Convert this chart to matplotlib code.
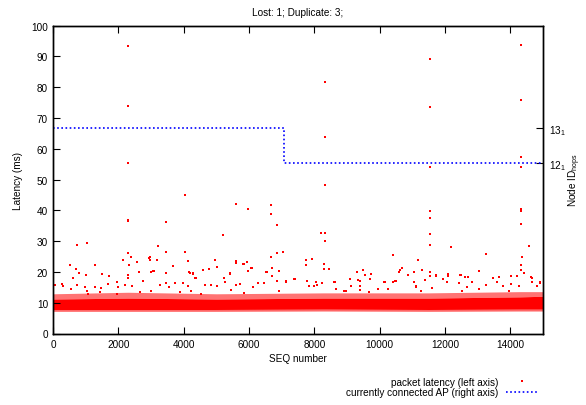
import numpy as np
import matplotlib
matplotlib.use("Agg")
import matplotlib.pyplot as plt
from matplotlib.lines import Line2D

plt.rcParams['font.family'] = ['Liberation Sans', 'DejaVu Sans']
plt.rcParams['mathtext.default'] = 'regular'
plt.rcParams['font.size'] = 7.2

# Latency points that stand out from the dense band (seq number, ms)
spike_seq = [2307, 2307, 2307, 2307, 2307, 4043, 8321, 8321, 8321, 11527, 11527, 11527, 11527, 11527,
             14325, 14325, 14325, 14325, 14325, 14325, 14325, 5615, 5983, 6667, 6677, 6852, 3451, 5196,
             8209, 8321, 8321, 11527, 11527]
spike_ms = [93.3, 73.8, 55.4, 37.0, 36.5, 45.0, 81.6, 63.9, 48.3, 89.1, 73.6, 54.2, 39.8, 37.5,
            93.7, 75.9, 57.4, 54.2, 40.4, 39.9, 35.6, 42.1, 40.4, 41.7, 38.7, 35.2, 36.1, 32.0,
            32.5, 32.7, 30.0, 32.3, 28.7]

mid_seq = [745, 1052, 521, 700, 796, 1286, 1010, 1491, 1725, 623, 1950, 52, 266, 2134, 2307, 2338, 2379,
           2563, 2971, 2971, 3073, 3216, 3175, 3451, 3451, 3675, 4043, 4124, 4175, 4277, 4390, 4584, 4778,
           4962, 5013, 5421, 5238, 5605, 5605, 5830, 5952, 5983, 6085, 6524, 6667, 6698, 6698, 6852, 6913,
           7036, 7128, 7382, 7750, 7750, 7924, 7770, 8056, 8301, 8301, 8444, 8638, 9097, 9321, 9505, 9352,
           9710, 9566, 10148, 10405, 10485, 10629, 10680, 10853, 11048, 11160, 11120, 11293, 11527, 11527,
           11722, 11936, 12078, 12191, 12466, 12619, 12701, 13039, 13253, 13467, 13640, 14019, 14203, 14325,
           14325, 14366, 14559, 14661, 14896]
mid_ms = [28.6, 29.5, 22.2, 20.9, 19.5, 22.2, 19.0, 19.4, 18.8, 17.9, 16.8, 15.7, 16.1, 23.9, 26.1, 22.2, 24.9,
          23.1, 24.7, 23.9, 20.3, 28.5, 24.0, 26.4, 19.5, 21.9, 26.6, 23.5, 19.9, 19.5, 17.9, 20.7, 20.9,
          23.9, 21.6, 19.5, 18.0, 23.6, 22.9, 22.7, 23.3, 20.4, 21.2, 20.1, 24.9, 21.2, 18.8, 26.0, 20.4,
          26.6, 17.0, 17.6, 24.0, 22.3, 24.2, 16.9, 16.7, 22.7, 20.9, 20.9, 16.6, 17.7, 20.1, 20.7, 17.4,
          17.8, 19.1, 16.8, 25.6, 17.1, 20.6, 21.2, 18.9, 19.9, 24.0, 15.0, 20.6, 19.9, 18.6,
          19.0, 17.7, 19.3, 28.1, 19.1, 18.2, 18.2, 20.3, 25.8, 18.0, 18.3, 18.8, 18.6, 22.2,
          20.5, 24.8, 28.4, 18.0, 16.4]

low_seq = [41, 317, 542, 725, 980, 1052, 1286, 1470, 1694, 2001, 2297, 2287, 2624, 2746, 2205, 2410, 2940,
           1440, 1082, 2665, 1950, 3011, 3084, 4186, 4288, 4339, 4594, 5615, 5717, 5431, 5278, 3267, 3471,
           3543, 3747, 3982, 4135, 4645, 4849, 5033, 4236, 5462, 5850, 3011, 3880, 4543, 5850, 6065, 6555,
           7393, 6871, 7852, 8077, 8240, 8617, 6289, 6473, 7137, 8004, 6116, 8668, 8923, 6932, 6708, 9128,
           9403, 9403, 9934, 10138, 10393, 10475, 10607, 11058, 11109, 11394, 11589, 11722, 10240, 11262,
           8964, 9679, 9393, 9730, 12099, 12476, 11936, 12047, 12415, 12813, 13242, 13651, 13579, 13774,
           14008, 14213, 14264, 14620, 14672, 14825, 14917, 12681, 13039, 12527, 13958, 14417]
low_ms = [15.7, 15.4, 14.4, 15.7, 15.0, 13.7, 15.2, 14.9, 16.1, 15.0, 19.1, 18.0, 19.9, 17.1, 15.8, 15.5, 24.5,
          13.6, 12.8, 13.4, 12.8, 20.1, 20.4, 19.6, 19.3, 17.9, 20.6, 15.7, 16.1, 19.4, 16.8, 15.8, 16.4,
          15.2, 16.4, 16.4, 15.5, 15.7, 15.7, 15.5, 13.9, 14.2, 13.1, 13.9, 13.4, 12.8, 22.6, 21.2, 19.9,
          17.7, 17.0, 15.3, 15.7, 16.3, 16.6, 16.3, 16.3, 16.8, 15.5, 15.0, 14.4, 13.9, 13.9, 18.6, 15.3,
          15.5, 14.1, 14.3, 16.7, 16.6, 17.0, 19.9, 16.8, 15.5, 17.4, 14.7, 18.8, 14.4, 13.9,
          13.9, 13.4, 17.1, 19.3, 18.8, 19.0, 17.7, 16.6, 16.3, 16.8, 15.7, 18.4, 16.8, 15.3,
          16.1, 18.6, 15.5, 18.2, 16.6, 15.3, 16.6, 15.0, 14.4, 13.9, 13.9, 19.6]

# Dense latency band (too many packets to read one by one): edges
band_seq = [0, 2300, 5000, 8300, 11500, 14300, 15000]
band_floor = [7.2, 7.2, 7.2, 7.3, 7.2, 7.3, 7.3]
band_lo = [7.8, 7.8, 7.8, 7.9, 7.8, 7.9, 7.9]
band_hi = [11.2, 11.5, 11.2, 11.5, 11.5, 11.9, 12.1]
band_top = [12.9, 13.4, 12.9, 13.2, 13.2, 13.6, 13.6]

# Currently connected AP (right axis)
ap_seq = [0, 7070, 15000]
ap_node = [13, 12, 12]

fig = plt.figure(figsize=(5.86, 4.06), dpi=100)
ax = fig.add_axes([53/586, 1 - 334.5/406, 490/586, 307.8/406])
ax2 = ax.twinx()

red = '#ff0000'
ax.fill_between(band_seq, band_lo, band_hi, color=red, linewidth=0)
# sparser edges of the band
ax.fill_between(band_seq, band_hi, band_top, color=red, alpha=0.55, linewidth=0)
ax.fill_between(band_seq, band_floor, band_lo, color=red, alpha=0.6, linewidth=0)
pts_seq = spike_seq + mid_seq + low_seq
pts_ms = spike_ms + mid_ms + low_ms
ax.plot(pts_seq, pts_ms, linestyle='none', marker='s', markersize=2.1, markeredgewidth=0, color=red)

ax2.plot(ap_seq, ap_node, drawstyle='steps-post', color='#0000ff', linewidth=1.2, linestyle=(0, (1, 1.5)))

ax.set_xlim(0, 15000)
ax.set_ylim(0, 100)
ax2.set_ylim(7.12, 15.915)
ax.set_xticks(np.arange(0, 15000, 2000))
ax.set_yticks(np.arange(0, 101, 10))
ax2.set_yticks([12, 13])
ax2.set_yticklabels(['12$_1$', '13$_1$'])

ax.tick_params(direction='in', length=5, width=0.8, top=True, right=False, labelsize=7.2, colors='black')
ax.tick_params(axis='x', pad=4)
ax2.tick_params(direction='in', length=5, width=0.8, labelsize=7.2, pad=4)
for a in (ax, ax2):
    for s in a.spines.values():
        s.set_linewidth(1.0)

ax.set_xlabel('SEQ number', labelpad=3)
ax.set_ylabel('Latency (ms)', labelpad=6)
ax2.set_ylabel('Node ID$_{hops}$', rotation=90, labelpad=1)
ax.set_title('Lost: 1; Duplicate: 3;', fontsize=7.2, pad=8)

handles = [Line2D([], [], linestyle='none', marker='s', markersize=2.1, markeredgewidth=0, color=red),
           Line2D([], [], color='#0000ff', linewidth=1.2, linestyle=(0, (1, 1.5)))]
labels = ['packet latency (left axis)', 'currently connected AP (right axis)']
fig.legend(handles, labels, loc='upper right', bbox_to_anchor=(0.925, 0.080), frameon=False,
           markerfirst=False, borderaxespad=0, labelspacing=0.05, handlelength=3.2, handletextpad=0.8,
           fontsize=7.2)

fig.savefig('out.png', dpi=100)
